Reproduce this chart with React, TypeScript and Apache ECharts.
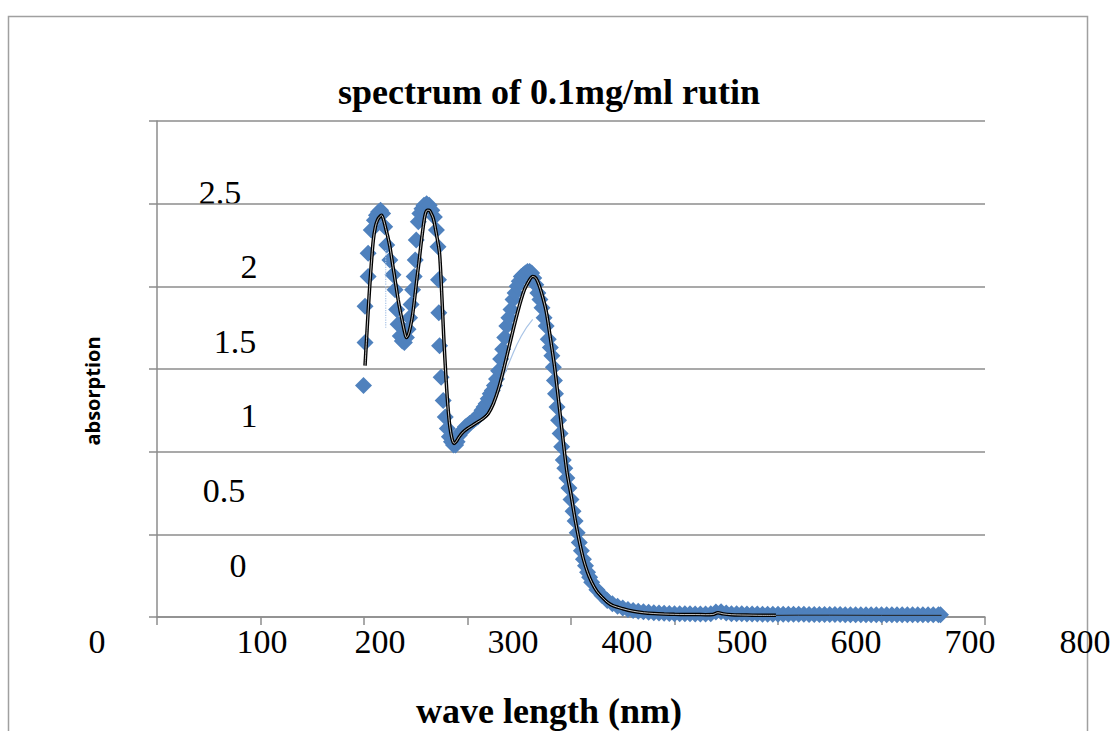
import { useEffect, useRef } from "react";
import * as echarts from "echarts";

// ---- data (wavelength nm, absorption) ----
const markerNm = [
  199.5, 201, 201, 204, 204, 207, 210, 212, 214, 216, 218, 220, 222, 225, 228, 230, 231.5, 233, 235, 237,
  239, 241, 242.5, 244, 245.5, 247, 248.5, 249.5, 250.5, 252.5, 254, 256, 258, 260.5, 263, 265.5, 268, 270, 271.5, 272,
  272.3, 273, 274.5, 276.5, 278.5, 280.5, 282.5, 284.5, 286.5, 288.5,
  290, 292, 294, 296, 298, 300, 302, 304, 306, 308, 310, 312, 314, 316, 318, 320, 322, 324, 326, 328,
  330, 332, 334, 336, 338, 340, 342, 344, 346, 348, 350, 352, 354, 356, 358, 360, 362, 364, 366, 368,
  370, 372, 374, 376, 378, 380, 381.5, 383, 384, 385, 386.5, 388, 389.5, 391, 392.5, 394, 396, 398, 400, 402,
  404, 406, 408, 410, 412, 414, 416, 418, 420,
  425, 430, 435, 440, 445, 450, 455, 460, 465, 470, 475, 480, 485, 490, 495, 500, 505, 510, 515, 520,
  525, 530, 535, 540, 545, 550, 555, 560, 565, 570, 575, 580, 585, 590, 595, 600, 605, 610, 615, 620,
  625, 630, 635, 640, 645, 650, 655, 660, 665, 670, 675, 680, 685, 690, 695, 700, 705, 710, 715, 720,
  725, 730, 735, 740, 745, 750, 755, 757,
];
const markerAbs = [
  1.40, 1.66, 1.88, 2.06, 2.20, 2.34, 2.40, 2.43, 2.45, 2.46, 2.44, 2.36, 2.25, 2.16, 2.07, 1.98, 1.86, 1.77, 1.70, 1.67,
  1.66, 1.69, 1.74, 1.81, 1.89, 1.98, 2.06, 2.16, 2.28, 2.39, 2.44, 2.47, 2.49, 2.50, 2.49, 2.46, 2.42, 2.34, 2.24, 2.04,
  1.84, 1.64, 1.45, 1.31, 1.21, 1.14, 1.09, 1.06, 1.04, 1.04,
  1.06, 1.10, 1.12, 1.13, 1.15, 1.16, 1.17, 1.18, 1.19, 1.20, 1.21, 1.23, 1.25, 1.27, 1.29, 1.32, 1.35, 1.37, 1.40, 1.44,
  1.49, 1.56, 1.62, 1.69, 1.76, 1.81, 1.86, 1.92, 1.96, 2.00, 2.03, 2.06, 2.07, 2.08, 2.09, 2.09, 2.08, 2.05, 2.01, 1.96,
  1.92, 1.87, 1.81, 1.76, 1.68, 1.63, 1.58, 1.51, 1.43, 1.35, 1.27, 1.19, 1.11, 1.03, 0.95, 0.90, 0.84, 0.78, 0.71, 0.64,
  0.58, 0.51, 0.45, 0.40, 0.35, 0.31, 0.27, 0.24, 0.21,
  0.165, 0.13, 0.10, 0.08, 0.065, 0.054, 0.046, 0.04, 0.035, 0.031, 0.028, 0.026, 0.024, 0.022, 0.021, 0.02, 0.02, 0.019, 0.019, 0.018,
  0.018, 0.018, 0.019, 0.03, 0.032, 0.024, 0.02, 0.019, 0.019, 0.018, 0.018, 0.018, 0.017, 0.017, 0.017, 0.017, 0.016, 0.016, 0.016, 0.016,
  0.016, 0.015, 0.015, 0.015, 0.015, 0.015, 0.015, 0.015, 0.014, 0.014, 0.014, 0.014, 0.014, 0.014, 0.014, 0.014, 0.013, 0.013, 0.013, 0.013,
  0.013, 0.013, 0.013, 0.013, 0.013, 0.013, 0.013, 0.013,
];

const trendNm = [
  201, 203, 205, 207, 209, 211, 213, 215, 217, 219, 221, 223, 225, 227, 229, 231, 233, 235, 237, 239,
  241, 243, 245, 247, 249, 251, 253, 255, 257, 259, 261, 263, 265, 267, 269, 271, 273, 275, 277, 279,
  281, 283, 285, 287, 289, 292, 296, 300, 305, 310, 315, 320, 325, 330, 335, 340, 345, 350, 355, 360,
  363, 366, 369, 372, 376, 380, 384, 388, 392, 396, 400, 404, 408, 412, 416, 420, 425, 430, 435, 440,
  450, 460, 470, 480, 490, 500, 510, 520, 530, 537, 542, 547, 555, 565, 575, 585, 598,
];
const trendAbs = [
  1.52, 1.74, 1.95, 2.13, 2.28, 2.36, 2.40, 2.42, 2.43, 2.40, 2.35, 2.30, 2.24, 2.16, 2.08, 2.00, 1.92, 1.85, 1.79, 1.73,
  1.69, 1.71, 1.76, 1.83, 1.93, 2.04, 2.14, 2.25, 2.35, 2.43, 2.46, 2.46, 2.44, 2.41, 2.35, 2.28, 2.20, 1.97, 1.70, 1.47,
  1.28, 1.15, 1.08, 1.05, 1.06, 1.09, 1.12, 1.14, 1.16, 1.18, 1.20, 1.23, 1.29, 1.38, 1.50, 1.63, 1.76, 1.88, 1.98, 2.04,
  2.06, 2.05, 2.01, 1.95, 1.85, 1.69, 1.52, 1.31, 1.09, 0.88, 0.74, 0.59, 0.46, 0.35, 0.27, 0.21, 0.155, 0.12, 0.09, 0.07,
  0.05, 0.035, 0.026, 0.021, 0.018, 0.016, 0.015, 0.015, 0.014, 0.015, 0.026, 0.019, 0.014, 0.012, 0.011, 0.010, 0.010,
];

const tailNm = [598, 620, 650, 700, 758];
const tailAbs = [0.010, 0.011, 0.011, 0.010, 0.010];

const faintANm = [221, 221];
const faintAAbs = [2.22, 1.75];
const faintBNm = [330, 341, 352, 363];
const faintBAbs = [1.38, 1.55, 1.70, 1.80];

const yTickLabels = ["2.5", "2", "1.5", "1", "0.5", "0"];
const xTickLabels = ["0", "100", "200", "300", "400", "500", "600", "700", "800"];

// label placement (the reference draws them shifted from their ticks)
const yLabelPos = [
  [220, 192], [249, 266], [235, 341], [249, 415], [224, 490], [238, 565],
];
const xLabelPos = [97, 262, 380, 513, 627, 742, 856, 970, 1085];

const zip = (a: number[], b: number[]) => a.map((v, i) => [v, b[i]]);

const SERIF = "'Liberation Serif', 'Times New Roman', serif";
const GRAY = "#8c8c8c";

const txt = (text: string, x: number, y: number, size: number, bold = false, family = SERIF) => ({
  type: "text",
  x,
  y,
  style: {
    text,
    fontFamily: family,
    fontSize: size,
    fontWeight: bold ? "bold" : "normal",
    fill: "#000",
    align: "center",
    verticalAlign: "middle",
    textAlign: "center",
    textVerticalAlign: "middle",
  },
});

export default function App() {
  const ref = useRef<HTMLDivElement>(null);
  useEffect(() => {
    document.body.style.margin = "0";
    document.body.style.overflow = "hidden";
    const chart = echarts.init(ref.current!, undefined, { renderer: "svg" });

    const graphics: any[] = [
      {
        type: "rect",
        shape: { x: 8.5, y: 16.5, width: 1079, height: 800 },
        style: { fill: "none", stroke: "#a0a0a0", lineWidth: 1.5 },
        silent: true,
      },
      txt("spectrum of 0.1mg/ml rutin", 549, 92, 36, true),
      txt("wave length (nm)", 549, 711, 36, true),
      {
        ...txt("absorption", 92, 391, 20, true, "'Open Sans', 'Noto Sans', sans-serif"),
        rotation: Math.PI / 2,
      },
    ];
    yTickLabels.forEach((t, i) => graphics.push(txt(t, yLabelPos[i][0], yLabelPos[i][1], 34)));
    xTickLabels.forEach((t, i) => graphics.push(txt(t, xLabelPos[i], 641, 34)));

    chart.setOption({
      animation: false,
      backgroundColor: "#ffffff",
      grid: { left: 157, top: 121, width: 828, height: 496, containLabel: false },
      xAxis: {
        type: "value",
        min: 0,
        max: 800,
        interval: 100,
        axisLine: { show: true, onZero: false, lineStyle: { color: GRAY, width: 1.5 } },
        axisTick: { show: true, length: 8, inside: false, lineStyle: { color: GRAY, width: 1.5 } },
        axisLabel: { show: false },
        splitLine: { show: false },
      },
      yAxis: {
        type: "value",
        min: 0,
        max: 3,
        interval: 0.5,
        axisLine: { show: true, lineStyle: { color: GRAY, width: 1.5 } },
        axisTick: { show: true, length: 8, inside: false, lineStyle: { color: GRAY, width: 1.5 } },
        axisLabel: { show: false },
        splitLine: { show: true, lineStyle: { color: GRAY, width: 1.5 } },
      },
      series: [
        {
          name: "absorption",
          type: "scatter",
          data: zip(markerNm, markerAbs),
          symbol: "diamond",
          symbolSize: 17,
          itemStyle: { color: "#4F81BD", opacity: 1 },
          z: 2,
        },
        {
          name: "faint A",
          type: "line",
          data: zip(faintANm, faintAAbs),
          symbol: "none",
          lineStyle: { color: "#a9c4e6", width: 1.2, type: "dotted" },
          z: 3,
        },
        {
          name: "faint B",
          type: "line",
          data: zip(faintBNm, faintBAbs),
          symbol: "none",
          smooth: true,
          lineStyle: { color: "#a9c4e6", width: 1.2 },
          z: 3,
        },
        {
          name: "trend",
          type: "line",
          data: zip(trendNm, trendAbs),
          symbol: "none",
          smooth: 0.3,
          lineStyle: { color: "#000000", width: 3.5 },
          z: 4,
        },
        {
          name: "trend inner",
          type: "line",
          data: zip(trendNm, trendAbs),
          symbol: "none",
          smooth: 0.3,
          lineStyle: { color: "rgba(255,255,255,0.75)", width: 1 },
          z: 5,
        },
        {
          name: "tail",
          type: "line",
          data: zip(tailNm, tailAbs),
          symbol: "none",
          lineStyle: { color: "#222222", width: 1 },
          z: 4,
        },
      ],
      graphic: graphics,
    });
    return () => chart.dispose();
  }, []);
  return <div ref={ref} style={{ width: 1116, height: 731, position: "absolute", left: 0, top: 0 }} />;
}
